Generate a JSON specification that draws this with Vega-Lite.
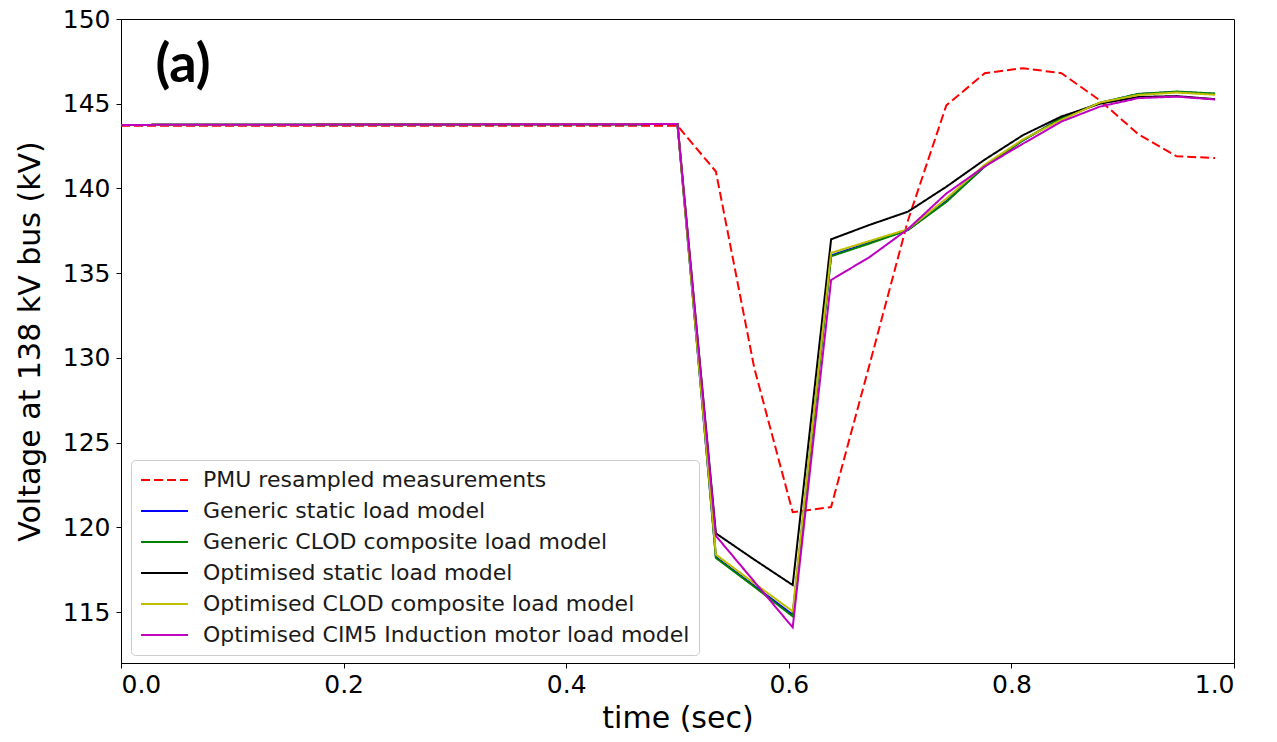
{
  "$schema": "https://vega.github.io/schema/vega-lite/v6.json",
  "autosize": {"type": "none"},
  "padding": {"left": 121, "top": 19, "right": 43, "bottom": 79},
  "width": 1113,
  "height": 644,
  "background": "white",
  "config": {
    "font": "DejaVu Sans",
    "view": {"stroke": "#000000", "strokeWidth": 1},
    "axis": {
      "grid": false,
      "domainColor": "#000000",
      "tickColor": "#000000",
      "tickSize": 5,
      "labelFont": "DejaVu Sans",
      "labelFontSize": 25,
      "labelColor": "#000000",
      "titleFont": "DejaVu Sans",
      "titleFontSize": 30,
      "titleFontWeight": "normal",
      "titleColor": "#000000"
    },
    "legend": {
      "orient": "none",
      "legendX": 10,
      "legendY": 441,
      "fillColor": "#ffffff",
      "strokeColor": "#cccccc",
      "cornerRadius": 4,
      "padding": 9,
      "rowPadding": 9,
      "clipHeight": 22,
      "labelFont": "DejaVu Sans",
      "labelFontSize": 22,
      "labelColor": "#1a1a1a",
      "labelLimit": 0,
      "labelOffset": 14,
      "symbolType": "stroke",
      "symbolSize": 2200,
      "symbolStrokeWidth": 2
    }
  },
  "datasets": {
    "volt": [
      {"series": "PMU resampled measurements", "t": 0.0, "v": 143.7},
      {"series": "PMU resampled measurements", "t": 0.5, "v": 143.7},
      {"series": "PMU resampled measurements", "t": 0.5345, "v": 141.0},
      {"series": "PMU resampled measurements", "t": 0.569, "v": 129.4},
      {"series": "PMU resampled measurements", "t": 0.6035, "v": 120.9},
      {"series": "PMU resampled measurements", "t": 0.638, "v": 121.2},
      {"series": "PMU resampled measurements", "t": 0.6725, "v": 129.6},
      {"series": "PMU resampled measurements", "t": 0.707, "v": 138.1},
      {"series": "PMU resampled measurements", "t": 0.7415, "v": 144.9},
      {"series": "PMU resampled measurements", "t": 0.776, "v": 146.8},
      {"series": "PMU resampled measurements", "t": 0.8105, "v": 147.1},
      {"series": "PMU resampled measurements", "t": 0.845, "v": 146.8},
      {"series": "PMU resampled measurements", "t": 0.8795, "v": 145.2},
      {"series": "PMU resampled measurements", "t": 0.914, "v": 143.2},
      {"series": "PMU resampled measurements", "t": 0.9485, "v": 141.9},
      {"series": "PMU resampled measurements", "t": 0.983, "v": 141.8},

      {"series": "Generic static load model", "t": 0.0, "v": 143.75},
      {"series": "Generic static load model", "t": 0.5, "v": 143.8},
      {"series": "Generic static load model", "t": 0.5345, "v": 118.25},
      {"series": "Generic static load model", "t": 0.569, "v": 116.55},
      {"series": "Generic static load model", "t": 0.6035, "v": 114.85},
      {"series": "Generic static load model", "t": 0.638, "v": 136.05},
      {"series": "Generic static load model", "t": 0.6725, "v": 136.8},
      {"series": "Generic static load model", "t": 0.707, "v": 137.55},
      {"series": "Generic static load model", "t": 0.7415, "v": 139.25},
      {"series": "Generic static load model", "t": 0.776, "v": 141.3},
      {"series": "Generic static load model", "t": 0.8105, "v": 142.85},
      {"series": "Generic static load model", "t": 0.845, "v": 144.15},
      {"series": "Generic static load model", "t": 0.8795, "v": 145.05},
      {"series": "Generic static load model", "t": 0.914, "v": 145.57},
      {"series": "Generic static load model", "t": 0.9485, "v": 145.7},
      {"series": "Generic static load model", "t": 0.983, "v": 145.58},

      {"series": "Generic CLOD composite load model", "t": 0.0, "v": 143.75},
      {"series": "Generic CLOD composite load model", "t": 0.5, "v": 143.8},
      {"series": "Generic CLOD composite load model", "t": 0.5345, "v": 118.2},
      {"series": "Generic CLOD composite load model", "t": 0.569, "v": 116.5},
      {"series": "Generic CLOD composite load model", "t": 0.6035, "v": 114.75},
      {"series": "Generic CLOD composite load model", "t": 0.638, "v": 136.0},
      {"series": "Generic CLOD composite load model", "t": 0.6725, "v": 136.75},
      {"series": "Generic CLOD composite load model", "t": 0.707, "v": 137.55},
      {"series": "Generic CLOD composite load model", "t": 0.7415, "v": 139.2},
      {"series": "Generic CLOD composite load model", "t": 0.776, "v": 141.3},
      {"series": "Generic CLOD composite load model", "t": 0.8105, "v": 142.85},
      {"series": "Generic CLOD composite load model", "t": 0.845, "v": 144.15},
      {"series": "Generic CLOD composite load model", "t": 0.8795, "v": 145.05},
      {"series": "Generic CLOD composite load model", "t": 0.914, "v": 145.58},
      {"series": "Generic CLOD composite load model", "t": 0.9485, "v": 145.72},
      {"series": "Generic CLOD composite load model", "t": 0.983, "v": 145.6},

      {"series": "Optimised static load model", "t": 0.0, "v": 143.75},
      {"series": "Optimised static load model", "t": 0.5, "v": 143.8},
      {"series": "Optimised static load model", "t": 0.5345, "v": 119.65},
      {"series": "Optimised static load model", "t": 0.569, "v": 118.1},
      {"series": "Optimised static load model", "t": 0.6035, "v": 116.6},
      {"series": "Optimised static load model", "t": 0.638, "v": 137.0},
      {"series": "Optimised static load model", "t": 0.6725, "v": 137.85},
      {"series": "Optimised static load model", "t": 0.707, "v": 138.63},
      {"series": "Optimised static load model", "t": 0.7415, "v": 140.1},
      {"series": "Optimised static load model", "t": 0.776, "v": 141.7},
      {"series": "Optimised static load model", "t": 0.8105, "v": 143.15},
      {"series": "Optimised static load model", "t": 0.845, "v": 144.25},
      {"series": "Optimised static load model", "t": 0.8795, "v": 145.0},
      {"series": "Optimised static load model", "t": 0.914, "v": 145.4},
      {"series": "Optimised static load model", "t": 0.9485, "v": 145.45},
      {"series": "Optimised static load model", "t": 0.983, "v": 145.27},

      {"series": "Optimised CLOD composite load model", "t": 0.0, "v": 143.75},
      {"series": "Optimised CLOD composite load model", "t": 0.5, "v": 143.8},
      {"series": "Optimised CLOD composite load model", "t": 0.5345, "v": 118.4},
      {"series": "Optimised CLOD composite load model", "t": 0.569, "v": 116.7},
      {"series": "Optimised CLOD composite load model", "t": 0.6035, "v": 115.05},
      {"series": "Optimised CLOD composite load model", "t": 0.638, "v": 136.2},
      {"series": "Optimised CLOD composite load model", "t": 0.6725, "v": 136.9},
      {"series": "Optimised CLOD composite load model", "t": 0.707, "v": 137.6},
      {"series": "Optimised CLOD composite load model", "t": 0.7415, "v": 139.4},
      {"series": "Optimised CLOD composite load model", "t": 0.776, "v": 141.4},
      {"series": "Optimised CLOD composite load model", "t": 0.8105, "v": 142.9},
      {"series": "Optimised CLOD composite load model", "t": 0.845, "v": 144.05},
      {"series": "Optimised CLOD composite load model", "t": 0.8795, "v": 145.07},
      {"series": "Optimised CLOD composite load model", "t": 0.914, "v": 145.52},
      {"series": "Optimised CLOD composite load model", "t": 0.9485, "v": 145.66},
      {"series": "Optimised CLOD composite load model", "t": 0.983, "v": 145.53},

      {"series": "Optimised CIM5 Induction motor load model", "t": 0.0, "v": 143.75},
      {"series": "Optimised CIM5 Induction motor load model", "t": 0.5, "v": 143.8},
      {"series": "Optimised CIM5 Induction motor load model", "t": 0.5345, "v": 119.5},
      {"series": "Optimised CIM5 Induction motor load model", "t": 0.569, "v": 116.8},
      {"series": "Optimised CIM5 Induction motor load model", "t": 0.6035, "v": 114.1},
      {"series": "Optimised CIM5 Induction motor load model", "t": 0.638, "v": 134.6},
      {"series": "Optimised CIM5 Induction motor load model", "t": 0.6725, "v": 135.95},
      {"series": "Optimised CIM5 Induction motor load model", "t": 0.707, "v": 137.6},
      {"series": "Optimised CIM5 Induction motor load model", "t": 0.7415, "v": 139.7},
      {"series": "Optimised CIM5 Induction motor load model", "t": 0.776, "v": 141.3},
      {"series": "Optimised CIM5 Induction motor load model", "t": 0.8105, "v": 142.65},
      {"series": "Optimised CIM5 Induction motor load model", "t": 0.845, "v": 143.95},
      {"series": "Optimised CIM5 Induction motor load model", "t": 0.8795, "v": 144.83},
      {"series": "Optimised CIM5 Induction motor load model", "t": 0.914, "v": 145.33},
      {"series": "Optimised CIM5 Induction motor load model", "t": 0.9485, "v": 145.42},
      {"series": "Optimised CIM5 Induction motor load model", "t": 0.983, "v": 145.25}
    ]
  },
  "layer": [
    {
      "data": {"name": "volt"},
      "encoding": {
        "x": {
          "field": "t",
          "type": "quantitative",
          "scale": {"domain": [0, 1], "nice": false, "zero": false},
          "axis": {
            "title": "time (sec)",
            "values": [0, 0.2, 0.4, 0.6, 0.8, 1.0],
            "format": ".1f",
            "labelPadding": 4,
            "titlePadding": 6
          }
        },
        "y": {
          "field": "v",
          "type": "quantitative",
          "scale": {"domain": [112, 150], "nice": false, "zero": false},
          "axis": {
            "title": "Voltage at 138 kV bus (kV)",
            "values": [115, 120, 125, 130, 135, 140, 145, 150],
            "labelPadding": 6,
            "titlePadding": 17
          }
        },
        "color": {
          "field": "series",
          "type": "nominal",
          "title": null,
          "scale": {
            "domain": [
              "PMU resampled measurements",
              "Generic static load model",
              "Generic CLOD composite load model",
              "Optimised static load model",
              "Optimised CLOD composite load model",
              "Optimised CIM5 Induction motor load model"
            ],
            "range": ["#ff0000", "#0000ff", "#008000", "#000000", "#bfbf00", "#bf00bf"]
          }
        },
        "strokeDash": {
          "field": "series",
          "type": "nominal",
          "title": null,
          "scale": {
            "domain": [
              "PMU resampled measurements",
              "Generic static load model",
              "Generic CLOD composite load model",
              "Optimised static load model",
              "Optimised CLOD composite load model",
              "Optimised CIM5 Induction motor load model"
            ],
            "range": [[9, 4], [1, 0], [1, 0], [1, 0], [1, 0], [1, 0]]
          }
        }
      },
      "layer": [
        {"transform": [{"filter": "datum.series === 'PMU resampled measurements'"}], "mark": {"type": "line", "strokeWidth": 2}},
        {"transform": [{"filter": "datum.series === 'Generic static load model'"}], "mark": {"type": "line", "strokeWidth": 2}},
        {"transform": [{"filter": "datum.series === 'Generic CLOD composite load model'"}], "mark": {"type": "line", "strokeWidth": 2}},
        {"transform": [{"filter": "datum.series === 'Optimised static load model'"}], "mark": {"type": "line", "strokeWidth": 2}},
        {"transform": [{"filter": "datum.series === 'Optimised CLOD composite load model'"}], "mark": {"type": "line", "strokeWidth": 2}},
        {"transform": [{"filter": "datum.series === 'Optimised CIM5 Induction motor load model'"}], "mark": {"type": "line", "strokeWidth": 2}}
      ]
    },
    {
      "data": {"values": [{"label": "(a)"}]},
      "mark": {"type": "text", "font": "Lato", "fontWeight": "bold", "fontSize": 54, "align": "left", "baseline": "middle", "color": "#000000"},
      "encoding": {
        "x": {"datum": 0.031, "type": "quantitative"},
        "y": {"datum": 147.2, "type": "quantitative"},
        "text": {"field": "label"}
      }
    }
  ]
}
